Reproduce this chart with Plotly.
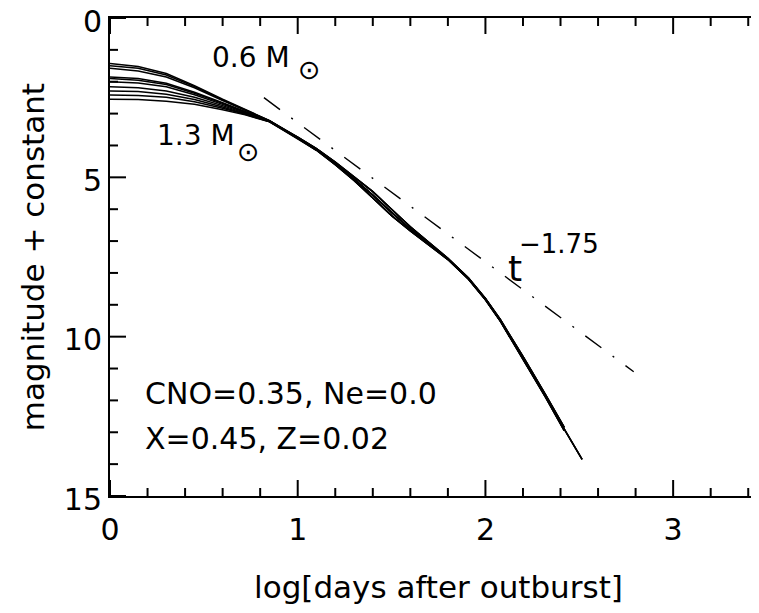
import plotly.graph_objects as go

# ---- data ----
head_x = [0.0, 0.15, 0.3, 0.45, 0.6, 0.72, 0.85]
head_1 = [1.43, 1.52, 1.74, 2.12, 2.55, 2.88, 3.22]
head_2 = [1.50, 1.58, 1.79, 2.15, 2.57, 2.89, 3.22]
head_3 = [1.58, 1.66, 1.85, 2.19, 2.59, 2.90, 3.23]
head_4 = [1.85, 1.90, 2.05, 2.33, 2.66, 2.94, 3.23]
head_5 = [1.90, 1.95, 2.09, 2.36, 2.68, 2.95, 3.24]
head_6 = [2.00, 2.04, 2.16, 2.41, 2.71, 2.96, 3.24]
head_7 = [2.16, 2.19, 2.29, 2.49, 2.75, 2.98, 3.25]
head_8 = [2.29, 2.31, 2.39, 2.56, 2.79, 3.00, 3.25]
head_9 = [2.42, 2.43, 2.49, 2.63, 2.83, 3.02, 3.26]
head_10 = [2.55, 2.56, 2.61, 2.71, 2.88, 3.04, 3.26]

tail_x_short = [1.0, 1.1, 1.2, 1.3, 1.4, 1.5, 1.6, 1.7, 1.8, 1.91, 2.0, 2.08, 2.2, 2.32, 2.42]
tail_x_long = [1.0, 1.1, 1.2, 1.3, 1.4, 1.5, 1.6, 1.7, 1.8, 1.91, 2.0, 2.08, 2.2, 2.32, 2.42, 2.515]
tail_a = [3.74, 4.10, 4.52, 4.98, 5.45, 6.00, 6.55, 7.05, 7.54, 8.16, 8.80, 9.47, 10.62, 11.82, 12.85]
tail_b = [3.76, 4.12, 4.55, 5.04, 5.56, 6.10, 6.62, 7.08, 7.56, 8.18, 8.82, 9.50, 10.66, 11.86, 12.90, 13.85]
tail_c = [3.78, 4.15, 4.60, 5.10, 5.65, 6.20, 6.68, 7.12, 7.58, 8.20, 8.84, 9.52, 10.70, 11.90, 12.95]

curves = [
    (head_1, tail_x_short, tail_a),
    (head_2, tail_x_long, tail_b),
    (head_3, tail_x_short, tail_a),
    (head_4, tail_x_short, tail_c),
    (head_5, tail_x_long, tail_b),
    (head_6, tail_x_short, tail_b[:15]),
    (head_7, tail_x_short, tail_c),
    (head_8, tail_x_short, tail_a),
    (head_9, tail_x_short, tail_c),
    (head_10, tail_x_long, tail_b),
]

powerlaw_x = [0.82, 2.79]
powerlaw_y = [2.5, 11.1]

x_major = [0, 1, 2, 3]
x_minor = [0.2, 0.4, 0.6, 0.8, 1.2, 1.4, 1.6, 1.8, 2.2, 2.4, 2.6, 2.8, 3.2, 3.4]
y_major = [0, 5, 10, 15]
y_minor = [1, 2, 3, 4, 6, 7, 8, 9, 11, 12, 13, 14]

FONT = "DejaVu Sans"

# plot-area size in pixels (for tick lengths in paper units)
W, H = 759, 613
ML, MR, MT, MB = 102, 0, 10, 125
PW, PH = W - ML - MR, H - MT - MB
MAJ, MIN = 16, 8

fig = go.Figure()
for head_y, tx, ty in curves:
    fig.add_trace(go.Scatter(
        x=head_x + tx, y=head_y + ty, mode="lines",
        line=dict(color="black", width=1.5), showlegend=False, hoverinfo="skip"))

fig.add_trace(go.Scatter(
    x=powerlaw_x, y=powerlaw_y, mode="lines",
    line=dict(color="black", width=1.4, dash="20px,14px,2px,14px"),
    showlegend=False, hoverinfo="skip"))

ann = []
def txt(x, y, s, size, xanchor="left", yanchor="middle"):
    ann.append(dict(x=x, y=y, xref="x", yref="y", text=s, showarrow=False,
                    xanchor=xanchor, yanchor=yanchor,
                    font=dict(family=FONT, size=size, color="black")))

txt(0.534, 1.24, "0.6 M", 28)
txt(1.062, 1.62, "\u2299", 27, xanchor="center")
txt(0.24, 3.69, "1.3 M", 28)
txt(0.738, 4.18, "\u2299", 27, xanchor="center")
txt(2.109, 7.85, "t", 36)
txt(2.17, 7.1, "\u22121.75", 26)
txt(0.176, 11.78, "CNO=0.35, Ne=0.0", 30)
txt(0.176, 13.18, "X=0.45, Z=0.02", 30)

# y-axis title as a rotated annotation (position independent of tick labels)
ann.append(dict(x=-0.117, y=0.5, xref="paper", yref="paper", text="magnitude + constant",
                textangle=-90, showarrow=False, xanchor="center", yanchor="middle",
                font=dict(family=FONT, size=31, color="black")))

# inward ticks on all four sides
shapes = []
tick_line = dict(color="black", width=2)
for vals, ln in ((x_major, MAJ), (x_minor, MIN)):
    for v in vals:
        shapes.append(dict(type="line", xref="x", yref="paper", x0=v, x1=v, y0=0, y1=ln / PH, line=tick_line))
        shapes.append(dict(type="line", xref="x", yref="paper", x0=v, x1=v, y0=1, y1=1 - ln / PH, line=tick_line))
for vals, ln in ((y_major, MAJ), (y_minor, MIN)):
    for v in vals:
        shapes.append(dict(type="line", xref="paper", yref="y", y0=v, y1=v, x0=0, x1=ln / PW, line=tick_line))
        shapes.append(dict(type="line", xref="paper", yref="y", y0=v, y1=v, x0=1, x1=1 - ln / PW, line=tick_line))

axis_common = dict(
    showline=True, linecolor="black", linewidth=2, mirror=True,
    ticks="", showgrid=False, zeroline=False, automargin=False,
    ticklabeloverflow="allow",
    tickfont=dict(family=FONT, size=30, color="black"),
)

fig.update_layout(
    width=W, height=H,
    margin=dict(l=ML, r=MR, t=MT, b=MB),
    paper_bgcolor="white", plot_bgcolor="white",
    annotations=ann, shapes=shapes,
    xaxis=dict(range=[0, 3.5], tickvals=x_major, ticklabelstandoff=6,
               title=dict(text="log[days after outburst]", font=dict(family=FONT, size=31, color="black"), standoff=30),
               **axis_common),
    yaxis=dict(range=[15, 0], tickvals=y_major, ticksuffix="\u00a0\u00a0",
               ticklabelshift=-3,
               **axis_common),
)

fig.write_html("out.html")
